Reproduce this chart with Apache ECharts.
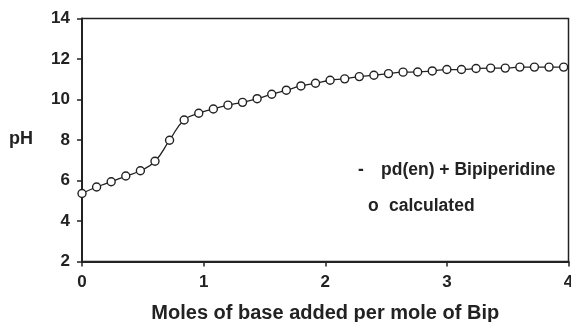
<!DOCTYPE html>
<html>
<head>
<meta charset="utf-8">
<script src="https://cdn.jsdelivr.net/npm/echarts@6/dist/echarts.min.js"></script>
<style>
  html, body { margin: 0; padding: 0; background: #fff; }
  #main { width: 571px; height: 322px; }
</style>
</head>
<body>
<div id="main"></div>
<script>
// moles of base added per mole of Bip
var molesBase = [0, 0.12, 0.24, 0.36, 0.48, 0.60, 0.72, 0.84, 0.96, 1.08, 1.20,
    1.32, 1.44, 1.56, 1.68, 1.80, 1.92, 2.04, 2.16, 2.28, 2.40, 2.52, 2.64,
    2.76, 2.88, 3.00, 3.12, 3.24, 3.36, 3.48, 3.60, 3.72, 3.84, 3.96];
// pH readings
var phValues = [5.36, 5.68, 5.94, 6.22, 6.48, 6.95, 7.99, 8.99, 9.32, 9.53, 9.72,
    9.86, 10.04, 10.26, 10.46, 10.67, 10.80, 10.95, 11.02, 11.13, 11.20, 11.28, 11.35,
    11.36, 11.41, 11.48, 11.48, 11.53, 11.55, 11.55, 11.60, 11.60, 11.60, 11.60];
var xTicks = [0, 1, 2, 3, 4];
var yTicks = [2, 4, 6, 8, 10, 12, 14];

var ink = '#222';
var font = 'Liberation Sans, Arial, sans-serif';

var points = molesBase.map(function (x, i) { return [x, phValues[i]]; });

var myChart = echarts.init(document.getElementById('main'));
var option = {
    animation: false,
    backgroundColor: '#fff',
    grid: {
        left: 82, right: 2.5, top: 18.5, bottom: 60.5,
        outerBoundsMode: 'none', containLabel: false,
        show: true, borderColor: ink, borderWidth: 1.5
    },
    xAxis: {
        type: 'value',
        min: xTicks[0], max: xTicks[xTicks.length - 1], interval: 1,
        name: 'Moles of base added per mole of Bip',
        nameLocation: 'middle', nameGap: 42,
        nameTextStyle: { color: ink, fontSize: 20, fontWeight: 'bold', fontFamily: font },
        axisLine: { onZero: false, lineStyle: { color: ink, width: 2 } },
        axisTick: { inside: false, length: 5, lineStyle: { color: ink, width: 1.5 } },
        axisLabel: { color: ink, fontSize: 17, fontWeight: 'bold', fontFamily: font, margin: 12 },
        splitLine: { show: false }
    },
    yAxis: {
        type: 'value',
        min: yTicks[0], max: yTicks[yTicks.length - 1], interval: 2,
        axisLine: { show: true, onZero: false, lineStyle: { color: ink, width: 2 } },
        axisTick: { show: true, inside: false, length: 5, lineStyle: { color: ink, width: 1.5 } },
        axisLabel: { color: ink, fontSize: 17, fontWeight: 'bold', fontFamily: font, margin: 12 },
        splitLine: { show: false }
    },
    graphic: [
        { type: 'text', left: 9, top: 130,
          style: { text: 'pH', fill: ink, font: 'bold 18px ' + font } },
        { type: 'text', left: 358, top: 161,
          style: { text: '-', fill: ink, font: 'bold 17.5px ' + font } },
        { type: 'text', left: 381, top: 161,
          style: { text: 'pd(en) + Bipiperidine', fill: ink, font: 'bold 17.5px ' + font } },
        { type: 'text', left: 368, top: 197,
          style: { text: 'o', fill: ink, font: 'bold 17.5px ' + font } },
        { type: 'text', left: 389, top: 197,
          style: { text: 'calculated', fill: ink, font: 'bold 17.5px ' + font } }
    ],
    series: [{
        name: 'pd(en) + Bipiperidine',
        type: 'line',
        data: points,
        smooth: 0.5,
        symbol: 'circle',
        symbolSize: 8,
        showAllSymbol: true,
        lineStyle: { color: ink, width: 1.3 },
        itemStyle: { color: '#fff', borderColor: ink, borderWidth: 1.4 }
    }]
};
myChart.setOption(option);
</script>
</body>
</html>
